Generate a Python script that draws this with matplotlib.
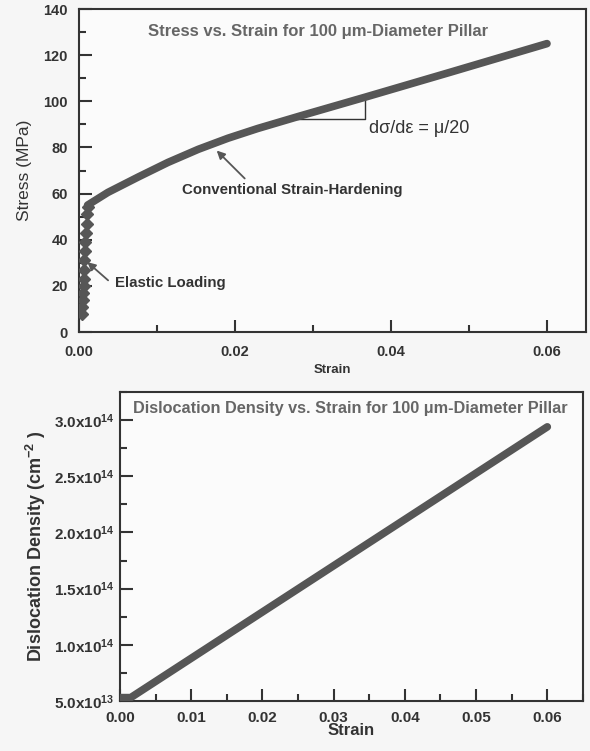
import numpy as np
import matplotlib
matplotlib.use('Agg')
import matplotlib.pyplot as plt
from matplotlib.ticker import MultipleLocator, FuncFormatter

plt.rcParams['font.family'] = ['Liberation Sans', 'DejaVu Sans']
plt.rcParams['mathtext.fontset'] = 'custom'
plt.rcParams['mathtext.rm'] = 'Liberation Sans'
plt.rcParams['mathtext.bf'] = 'Liberation Sans:bold'

# Stress vs strain, elastic part (diamond markers)
elastic_strain = [0.0004, 0.0004, 0.0005, 0.0005, 0.0006, 0.0006, 0.0007,
                  0.0007, 0.0008, 0.0008, 0.0009, 0.0010, 0.0010, 0.0011]
elastic_stress = [8, 11, 14, 17, 20, 23, 27, 31, 35, 39, 43, 47, 51, 54]

# plastic part (strain hardening)
plastic_strain = [0.0011, 0.0037, 0.0076, 0.0114, 0.0153, 0.0191, 0.0229,
                  0.0283, 0.0367, 0.0476, 0.06]
plastic_stress = [55, 60.5, 67.2, 73.5, 79.2, 84.0, 88.2, 93.6, 101.8, 112.6, 125]

# slope triangle
tri_strain = [0.0272, 0.0367, 0.0367]
tri_stress = [92.5, 92.5, 102]

# dislocation density vs strain
rho_strain = [0.0, 0.0015, 0.06]
rho_density = [5.3e13, 5.3e13, 2.94e14]

line_col = '#565656'
axis_col = '#333333'
text_col = '#333333'
title_col = '#666666'

fig = plt.figure(figsize=(5.9, 7.51), dpi=100)
fig.patch.set_facecolor('#f6f6f6')

ax1 = fig.add_axes([0.1339, 0.5579, 0.8593, 0.4301])
ax2 = fig.add_axes([0.2034, 0.0666, 0.7846, 0.4114])

for ax in (ax1, ax2):
    ax.set_facecolor('#fbfbfb')
    for s in ax.spines.values():
        s.set_linewidth(1.5)
        s.set_color(axis_col)
    ax.tick_params(which='both', direction='in', top=False, right=False,
                   color=axis_col, width=1.5, labelcolor=text_col)
    ax.tick_params(which='major', length=9)
    ax.tick_params(which='minor', length=5)

# ---- top panel
ax1.plot(plastic_strain, plastic_stress, color=line_col, lw=5.5,
         solid_capstyle='round', solid_joinstyle='round', zorder=3)
ax1.plot(elastic_strain, elastic_stress, 'D', color=line_col, ms=6, zorder=3)
ax1.plot(tri_strain, tri_stress, color=axis_col, lw=1.0, zorder=2)

ax1.set_xlim(0, 0.065)
ax1.set_ylim(0, 140)
ax1.xaxis.set_major_locator(MultipleLocator(0.02))
ax1.xaxis.set_minor_locator(MultipleLocator(0.01))
ax1.yaxis.set_major_locator(MultipleLocator(20))
ax1.yaxis.set_minor_locator(MultipleLocator(10))
ax1.xaxis.set_major_formatter(FuncFormatter(lambda v, p: '%.2f' % v))
ax1.tick_params(axis='x', pad=9, labelsize=10.5)
ax1.tick_params(axis='y', pad=8, labelsize=10.5)
for lab in ax1.get_xticklabels() + ax1.get_yticklabels():
    lab.set_fontweight('bold')
ax1.set_xlabel('Strain', fontsize=9.5, fontweight='bold', color=text_col, labelpad=4)
ax1.set_ylabel('Stress (MPa)', fontsize=12.5, color=text_col, labelpad=8)

ax1.text(0.471, 0.929, 'Stress vs. Strain for 100 \u03bcm-Diameter Pillar',
         transform=ax1.transAxes, ha='center', va='center', fontsize=12,
         fontweight='bold', color=title_col)
ax1.text(0.0372, 88, 'd\u03c3/d\u03b5 = \u03bc/20', ha='left', va='center',
         fontsize=13, color=text_col)

ax1.annotate('', xy=(0.0174, 79.5), xytext=(0.0215, 65.7),
             arrowprops=dict(arrowstyle='-|>', color=line_col, lw=1.3,
                             mutation_scale=12))
ax1.text(0.0132, 61.4, 'Conventional Strain-Hardening', ha='left', va='center',
         fontsize=10.8, fontweight='bold', color=text_col)
ax1.annotate('', xy=(0.0008, 31.1), xytext=(0.0040, 21.6),
             arrowprops=dict(arrowstyle='-|>', color=line_col, lw=1.3,
                             mutation_scale=12))
ax1.text(0.0046, 21.2, 'Elastic Loading', ha='left', va='center',
         fontsize=10.8, fontweight='bold', color=text_col)

# ---- bottom panel
ax2.plot(rho_strain, rho_density, color=line_col, lw=5.5,
         solid_capstyle='round', zorder=3)
ax2.set_xlim(0, 0.065)
ax2.set_ylim(5e13, 3.25e14)
ax2.xaxis.set_major_locator(MultipleLocator(0.01))
ax2.xaxis.set_minor_locator(MultipleLocator(0.005))
ax2.yaxis.set_major_locator(MultipleLocator(5e13))
ax2.yaxis.set_minor_locator(MultipleLocator(2.5e13))
ax2.xaxis.set_major_formatter(FuncFormatter(lambda v, p: '%.2f' % v))


def sci_fmt(v, p):
    if v <= 0:
        return ''
    e = int(np.floor(np.log10(v) + 1e-9))
    m = v / 10 ** e
    return r'$\mathbf{%.1fx10^{%d}}$' % (m, e)


ax2.yaxis.set_major_formatter(FuncFormatter(sci_fmt))
ax2.tick_params(axis='x', pad=7, labelsize=11)
ax2.tick_params(axis='y', pad=4, labelsize=11)
for lab in ax2.get_xticklabels():
    lab.set_fontweight('bold')
ax2.set_xlabel('Strain', fontsize=12, fontweight='bold', color=text_col, labelpad=-1)
ax2.set_ylabel(r'Dislocation Density (cm$^{\mathbf{-2}}$ )', fontsize=13,
               fontweight='bold', color=text_col, labelpad=4)
ax2.text(0.497, 0.948, 'Dislocation Density vs. Strain for 100 \u03bcm-Diameter Pillar',
         transform=ax2.transAxes, ha='center', va='center', fontsize=11.7,
         fontweight='bold', color=title_col)

fig.savefig('out.png', dpi=100, facecolor=fig.get_facecolor())
